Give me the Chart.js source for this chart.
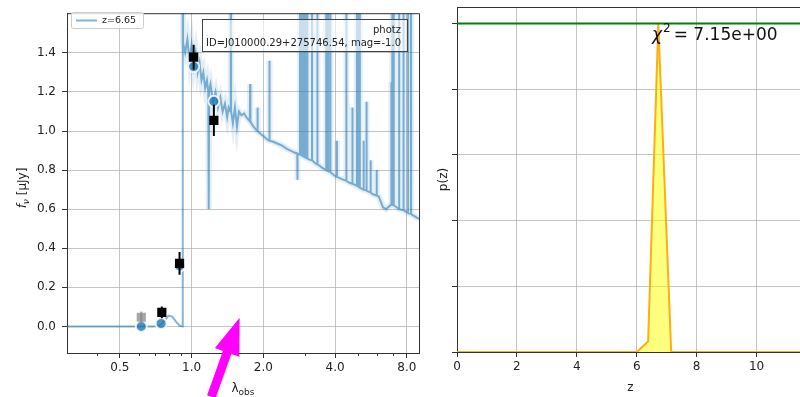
<!DOCTYPE html>
<html>
<head>
<meta charset="utf-8">
<script src="https://cdn.jsdelivr.net/npm/chart.js@4.4.1/dist/chart.umd.min.js"></script>
<style>
  body { margin: 0; background: #fff; width: 800px; height: 397px; overflow: hidden; position: relative; }
  #sed { position: absolute; left: 0; top: 0; }
  #pz { position: absolute; left: 430px; top: 0; }
</style>
</head>
<body>
<canvas id="sed" width="430" height="397"></canvas>
<canvas id="pz" width="370" height="397"></canvas>
<script>
// --- SED panel data ---
const specLam = [0.30, 0.60, 0.70, 0.74, 0.77, 0.80, 0.83, 0.86, 0.89, 0.915, 0.918, 0.921,
  0.94, 0.96, 0.98, 1.00, 1.02, 1.04, 1.06, 1.08, 1.10, 1.12, 1.14, 1.16, 1.175, 1.18, 1.185,
  1.20, 1.23, 1.26, 1.29, 1.32, 1.35, 1.38, 1.41, 1.43, 1.455, 1.46, 1.465, 1.49, 1.52, 1.55,
  1.58, 1.62, 1.66, 1.70, 1.755, 1.76, 1.765, 1.80, 1.885, 1.89, 1.895, 1.95, 2.00, 2.06,
  2.115, 2.12, 2.125, 2.20, 2.30, 2.40, 2.50, 2.60, 2.70, 2.775, 2.78, 2.785, 2.845, 2.85, 2.855,
  2.895, 2.90, 2.905, 2.945, 2.95, 2.955, 2.995, 3.00, 3.005, 3.055, 3.06, 3.065, 3.10,
  3.195, 3.20, 3.205, 3.30, 3.365, 3.37, 3.375, 3.55,
  3.665, 3.67, 3.675, 3.735, 3.74, 3.745, 3.815, 3.82, 3.825, 3.95,
  4.065, 4.07, 4.075, 4.25, 4.455, 4.46, 4.465, 4.60, 4.725, 4.73, 4.735,
  4.935, 4.94, 4.945, 5.015, 5.02, 5.025, 5.075, 5.08, 5.085,
  5.265, 5.27, 5.275, 5.415, 5.42, 5.425, 5.635, 5.64, 5.645, 5.80, 5.975, 5.98, 5.985,
  6.10, 6.35, 6.55, 6.885, 6.89, 6.895, 6.945, 6.95, 6.955, 7.045, 7.05, 7.055, 7.25,
  7.425, 7.43, 7.435, 7.745, 7.75, 7.755, 8.095, 8.10, 8.105, 8.325, 8.33, 8.335, 8.60, 9.00];
const specFlux = [0, 0, 0, 0.008, 0.03, 0.055, 0.05, 0.025, 0.004, 0, 3.0, 1.45,
  1.40, 1.47, 1.36, 1.44, 1.33, 1.40, 1.30, 1.35, 1.26, 1.30, 1.22, 1.26, 1.20, 0.60, 1.21,
  1.24, 1.15, 1.20, 1.12, 1.17, 1.10, 1.14, 1.07, 1.12, 1.10, 3.0, 1.10, 1.04, 1.12, 1.02,
  1.10, 1.08, 1.09, 1.07, 1.05, 1.24, 1.05, 1.03, 1.00, 1.12, 1.00, 0.985, 0.975, 0.96,
  0.95, 1.36, 0.95, 0.945, 0.935, 0.925, 0.91, 0.90, 0.89, 0.885, 0.75, 0.885, 0.88, 3.0, 0.88,
  0.875, 3.0, 0.875, 0.87, 3.0, 0.87, 0.865, 3.0, 0.865, 0.86, 3.0, 0.86, 0.855,
  0.85, 3.0, 0.85, 0.835, 0.83, 3.0, 0.83, 0.81,
  0.80, 3.0, 0.80, 0.795, 3.0, 0.795, 0.79, 3.0, 0.79, 0.775,
  0.765, 0.95, 0.765, 0.755, 0.745, 3.0, 0.745, 0.735, 0.73, 1.12, 0.73,
  0.72, 3.0, 0.72, 0.715, 3.0, 0.715, 0.71, 3.0, 0.71,
  0.70, 0.95, 0.70, 0.695, 1.15, 0.695, 0.685, 0.85, 0.685, 0.675, 0.67, 0.80, 0.67,
  0.665, 0.61, 0.60, 0.625, 1.25, 0.625, 0.622, 3.0, 0.622, 0.62, 3.0, 0.62, 0.61,
  0.60, 3.0, 0.60, 0.595, 3.0, 0.595, 0.58, 3.0, 0.58, 0.575, 3.0, 0.575, 0.565, 0.55];
const obsLam = [0.75, 0.89, 1.02, 1.24];
const obsFlux = [0.072, 0.323, 1.378, 1.055];
const obsErr = [0.03, 0.058, 0.063, 0.08];
const greyLam = [0.615];
const greyFlux = [0.047];
const greyErr = [0.03];
const modelLam = [0.615, 0.745, 0.89, 1.02, 1.24];
const modelFlux = [0.0, 0.015, 0.31, 1.33, 1.152];
const xTicks = [0.5, 1, 2, 4, 8];
const xTickLabels = ['0.5', '1.0', '2.0', '4.0', '8.0'];
const xMinorTicks = [0.4, 0.6, 0.7, 0.8, 0.9, 3, 5, 6, 7];
const yTicks = [0, 0.2, 0.4, 0.6, 0.8, 1.0, 1.2, 1.4];
const legendLabel = 'z=6.65';
const infoLines = ['photz', 'ID=J010000.29+275746.54, mag=-1.0'];
// arrow annotation, in data units (lambda, flux)
const arrowTip = [1.59, 0.045];
const arrowTail = [1.21, -0.36];

// --- p(z) panel data ---
const zGrid = [0, 6.0, 6.38, 6.72, 7.15, 11.45];
const pz = [0, 0, 0.032, 1.0, 0, 0];
const pzLevel = 1.0;
const zTicks = [0, 2, 4, 6, 8, 10];
const pzTicks = [0, 0.2, 0.4, 0.6, 0.8, 1.0];
const chi2Value = '7.15e+00';

Chart.defaults.font.family = '"DejaVu Sans", sans-serif';
Chart.defaults.font.size = 12;
Chart.defaults.color = '#222';

const gridColor = 'rgba(176,176,176,0.75)';
const spineColor = '#333';
const FONT = '"DejaVu Sans", sans-serif';

const specPts = specLam.map((x, i) => ({x, y: specFlux[i]}));
const bandPts = specPts.filter(p => p.x >= 0.918);

function errPts(lams, vals, errs) {
  const out = [];
  lams.forEach((x, i) => {
    out.push({x, y: vals[i] - errs[i]}, {x, y: vals[i] + errs[i]}, {x, y: null});
  });
  return out;
}

const sedDecor = {
  id: 'sedDecor',
  afterDraw(chart) {
    const {ctx, chartArea: a, scales: {x, y}} = chart;
    ctx.save();
    // top & right spines
    ctx.strokeStyle = spineColor;
    ctx.lineWidth = 1;
    ctx.beginPath();
    ctx.moveTo(a.left, a.top + 0.5); ctx.lineTo(a.right + 0.5, a.top + 0.5);
    ctx.lineTo(a.right + 0.5, a.bottom);
    ctx.stroke();
    // minor ticks
    ctx.beginPath();
    xMinorTicks.forEach(v => {
      const px = Math.round(x.getPixelForValue(v)) + 0.5;
      ctx.moveTo(px, a.bottom); ctx.lineTo(px, a.bottom + 3);
    });
    ctx.stroke();

    // legend
    ctx.fillStyle = 'rgba(255,255,255,0.8)';
    ctx.strokeStyle = '#ccc';
    ctx.beginPath();
    ctx.roundRect(71.5, 12.5, 72, 16, 2);
    ctx.fill(); ctx.stroke();
    ctx.strokeStyle = 'rgba(31,119,180,0.55)';
    ctx.lineWidth = 2;
    ctx.beginPath(); ctx.moveTo(76, 20.5); ctx.lineTo(97, 20.5); ctx.stroke();
    ctx.fillStyle = '#222';
    ctx.font = '9.5px ' + FONT;
    ctx.textBaseline = 'middle';
    ctx.fillText(legendLabel, 102, 20.5);

    // info box
    ctx.fillStyle = 'rgba(255,255,255,0.6)';
    ctx.strokeStyle = '#444';
    ctx.lineWidth = 1;
    ctx.fillRect(202.5, 19.5, 205, 32);
    ctx.strokeRect(202.5, 19.5, 205, 32);
    ctx.fillStyle = '#222';
    ctx.font = '10px ' + FONT;
    ctx.textAlign = 'right';
    ctx.textBaseline = 'alphabetic';
    ctx.fillText(infoLines[0], 401, 33);
    ctx.fillText(infoLines[1], 401, 46);

    // x title: lambda_obs
    ctx.textAlign = 'left';
    ctx.font = '12px ' + FONT;
    const cx = (a.left + a.right) / 2;
    const w1 = ctx.measureText('λ').width;
    ctx.font = '9px ' + FONT;
    const w2 = ctx.measureText('obs').width;
    const sx = cx - (w1 + w2) / 2;
    ctx.font = '12px ' + FONT;
    ctx.fillText('λ', sx, 392);
    ctx.font = '9px ' + FONT;
    ctx.fillText('obs', sx + w1, 395);

    // y title: f_nu [muJy]
    ctx.save();
    ctx.translate(26, 188);
    ctx.rotate(-Math.PI / 2);
    ctx.font = 'italic 12px ' + FONT;
    const p1 = ctx.measureText('f').width;
    ctx.font = 'italic 9px ' + FONT;
    const p2 = ctx.measureText('ν').width;
    ctx.font = '12px ' + FONT;
    const p3 = ctx.measureText(' [μJy]').width;
    let tx = -(p1 + p2 + p3) / 2;
    ctx.font = 'italic 12px ' + FONT;
    ctx.fillText('f', tx, 0); tx += p1;
    ctx.font = 'italic 9px ' + FONT;
    ctx.fillText('ν', tx, 3); tx += p2;
    ctx.font = '12px ' + FONT;
    ctx.fillText(' [μJy]', tx, 0);
    ctx.restore();

    // magenta arrow
    const tipX = x.getPixelForValue(arrowTip[0]), tipY = y.getPixelForValue(arrowTip[1]);
    const tailX = x.getPixelForValue(arrowTail[0]), tailY = y.getPixelForValue(arrowTail[1]);
    const dx = tipX - tailX, dy = tipY - tailY, len = Math.hypot(dx, dy);
    const ux = dx / len, uy = dy / len, nx = -uy, ny = ux;
    const headL = 37, headW = 13, shaftW = 4.5;
    const bx = tipX - ux * headL, by = tipY - uy * headL;
    ctx.fillStyle = '#ff00ff';
    ctx.beginPath();
    ctx.moveTo(tipX, tipY);
    ctx.lineTo(bx + nx * headW, by + ny * headW);
    ctx.lineTo(bx + nx * shaftW, by + ny * shaftW);
    ctx.lineTo(tailX + nx * shaftW, tailY + ny * shaftW);
    ctx.lineTo(tailX - nx * shaftW, tailY - ny * shaftW);
    ctx.lineTo(bx - nx * shaftW, by - ny * shaftW);
    ctx.lineTo(bx - nx * headW, by - ny * headW);
    ctx.closePath();
    ctx.fill();
    ctx.restore();
  }
};

new Chart(document.getElementById('sed'), {
  type: 'scatter',
  data: {
    datasets: [
      {data: bandPts, showLine: true, borderColor: 'rgba(31,119,180,0.12)', borderWidth: 6,
        pointRadius: 0, order: 7},
      {label: legendLabel, data: specPts, showLine: true, borderColor: 'rgba(31,119,180,0.55)',
        borderWidth: 2, pointRadius: 0, order: 6},
      {data: modelLam.map((x, i) => ({x, y: modelFlux[i]})), pointRadius: 5.5, pointBorderWidth: 2,
        backgroundColor: 'rgba(31,119,180,0.8)', borderColor: 'rgba(255,255,255,0.85)', order: 5},
      {data: errPts(greyLam, greyFlux, greyErr), showLine: true, borderColor: 'rgba(130,130,130,0.7)',
        borderWidth: 2, pointRadius: 0, order: 4},
      {data: greyLam.map((x, i) => ({x, y: greyFlux[i]})), pointStyle: 'rect', pointRadius: 6.5,
        backgroundColor: 'rgba(130,130,130,0.7)', borderWidth: 0, order: 3},
      {data: errPts(obsLam, obsFlux, obsErr), showLine: true, borderColor: '#000',
        borderWidth: 2, pointRadius: 0, order: 2},
      {data: obsLam.map((x, i) => ({x, y: obsFlux[i]})), pointStyle: 'rect', pointRadius: 6.5,
        backgroundColor: '#000', borderWidth: 0, order: 1}
    ]
  },
  options: {
    responsive: false,
    animation: false,
    layout: {padding: {top: 7, right: 11, left: 0, bottom: 0}},
    plugins: {legend: {display: false}, tooltip: {enabled: false}},
    scales: {
      x: {
        type: 'logarithmic', min: 0.3, max: 9.0,
        afterBuildTicks: s => { s.ticks = xTicks.map(v => ({value: v})); },
        afterFit: s => { s.height = 44; },
        ticks: {callback: (v, i) => xTickLabels[i], padding: 3, maxRotation: 0, autoSkip: false},
        grid: {color: gridColor, lineWidth: 1, tickLength: 5, tickColor: spineColor},
        border: {color: spineColor, width: 1}
      },
      y: {
        min: -0.136, max: 1.603,
        afterBuildTicks: s => { s.ticks = yTicks.map(v => ({value: v})); },
        afterFit: s => { s.width = 67; },
        ticks: {callback: v => v.toFixed(1), padding: 6},
        grid: {color: gridColor, lineWidth: 1, tickLength: 5, tickColor: spineColor},
        border: {color: spineColor, width: 1}
      }
    }
  },
  plugins: [sedDecor]
});

const pzDecor = {
  id: 'pzDecor',
  afterDraw(chart) {
    const {ctx, chartArea: a, scales: {x, y}} = chart;
    ctx.save();
    ctx.strokeStyle = spineColor;
    ctx.lineWidth = 1;
    ctx.beginPath();
    ctx.moveTo(a.left, a.top + 0.5); ctx.lineTo(a.right, a.top + 0.5);
    ctx.stroke();

    // chi2 label
    ctx.fillStyle = '#111';
    ctx.textBaseline = 'alphabetic';
    let lx = x.getPixelForValue(6.51);
    const ly = y.getPixelForValue(0.95);
    ctx.font = 'italic 17px ' + FONT;
    ctx.fillText('χ', lx, ly);
    lx += ctx.measureText('χ').width + 1;
    ctx.font = '12px ' + FONT;
    ctx.fillText('2', lx, ly - 8);
    lx += ctx.measureText('2').width + 3;
    ctx.font = '17px ' + FONT;
    ctx.fillText('= ' + chi2Value, lx, ly);

    // axis titles
    ctx.fillStyle = '#222';
    ctx.font = '12px ' + FONT;
    ctx.textAlign = 'center';
    ctx.fillText('z', (a.left + a.right) / 2 + 2, 391);
    ctx.save();
    ctx.translate(17, (a.top + a.bottom) / 2);
    ctx.rotate(-Math.PI / 2);
    ctx.fillText('p(z)', 0, 0);
    ctx.restore();
    ctx.restore();
  }
};

new Chart(document.getElementById('pz'), {
  type: 'scatter',
  data: {
    datasets: [
      {data: zGrid.map((x, i) => ({x, y: pz[i]})), showLine: true, fill: 'origin',
        backgroundColor: 'rgba(255,255,0,0.5)', borderColor: 'rgba(255,165,0,0.9)',
        borderWidth: 2, pointRadius: 0, order: 2},
      {data: [{x: zGrid[0], y: pzLevel}, {x: zGrid[zGrid.length - 1], y: pzLevel}], showLine: true,
        borderColor: 'green', borderWidth: 2, pointRadius: 0, order: 1}
    ]
  },
  options: {
    responsive: false,
    animation: false,
    layout: {padding: {top: 7, right: 0, left: 0, bottom: 0}},
    plugins: {legend: {display: false}, tooltip: {enabled: false}},
    scales: {
      x: {
        min: 0, max: 11.45,
        afterBuildTicks: s => { s.ticks = zTicks.map(v => ({value: v})); },
        afterFit: s => { s.height = 45; },
        ticks: {callback: v => String(v), padding: 3, maxRotation: 0, autoSkip: false},
        grid: {color: gridColor, lineWidth: 1, tickLength: 5, tickColor: spineColor},
        border: {color: spineColor, width: 1}
      },
      y: {
        min: 0, max: 1.05,
        afterBuildTicks: s => { s.ticks = pzTicks.map(v => ({value: v})); },
        afterFit: s => { s.width = 27; },
        ticks: {display: false},
        grid: {color: gridColor, lineWidth: 1, tickLength: 5, tickColor: spineColor},
        border: {color: spineColor, width: 1}
      }
    }
  },
  plugins: [pzDecor]
});
</script>
</body>
</html>
